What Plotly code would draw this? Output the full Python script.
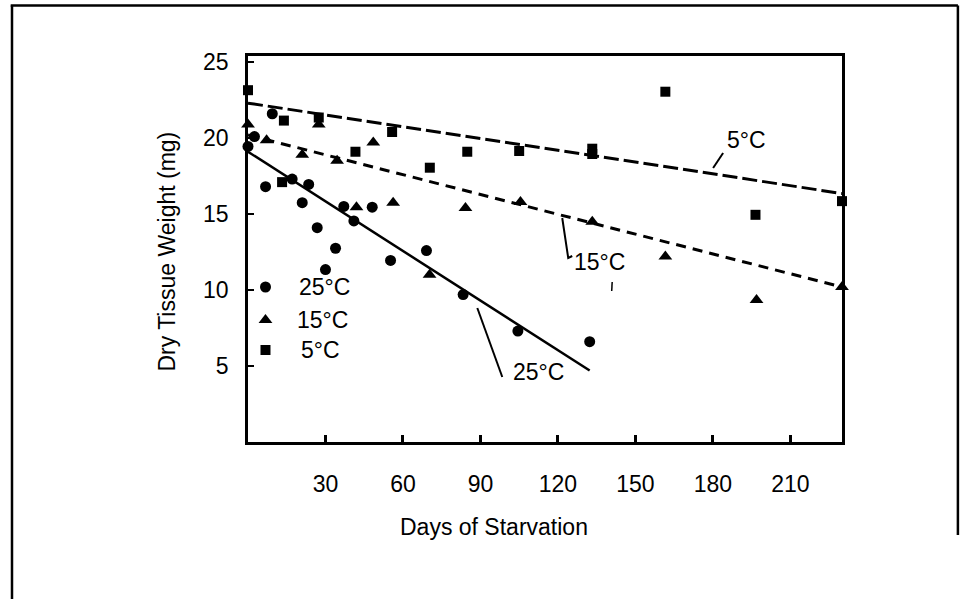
import plotly.graph_objects as go

# ---- data ----
days_25 = [0, 2.5, 9.4, 6.8, 17.1, 23.5, 21.0, 37.1, 48.1, 41.0, 26.8, 33.9, 30.0, 55.2, 69.1, 83.3, 104.5, 132.3]
wt_25   = [19.45, 20.1, 21.6, 16.8, 17.3, 16.95, 15.75, 15.5, 15.45, 14.55, 14.1, 12.75, 11.35, 11.95, 12.6, 9.7, 7.3, 6.6]

days_15 = [0, 7.2, 21.0, 34.5, 27.4, 48.5, 42.0, 56.2, 70.3, 84.2, 105.5, 133.3, 161.6, 196.9, 230]
wt_15   = [20.9, 19.85, 18.9, 18.5, 20.9, 19.7, 15.45, 15.75, 11.0, 15.4, 15.8, 14.5, 12.2, 9.35, 10.2]

days_5 = [0, 13.9, 13.2, 27.4, 41.6, 55.8, 70.4, 84.9, 105.0, 133.3, 133.3, 161.6, 196.5, 230]
wt_5   = [23.15, 21.15, 17.1, 21.35, 19.1, 20.4, 18.05, 19.1, 19.15, 19.3, 18.95, 23.05, 14.95, 15.85]

# regression lines (end points)
fit_x_5, fit_y_5 = [0, 230], [22.3, 16.35]
fit_x_15, fit_y_15 = [0, 230], [20.2, 10.2]
fit_x_25, fit_y_25 = [0, 132.3], [19.1, 4.7]

x_ticks = [30, 60, 90, 120, 150, 180, 210]
y_ticks = [5, 10, 15, 20, 25]
legend_labels = ["25°C", "15°C", "5°C"]

FONT = "Liberation Sans, Arial, Helvetica, sans-serif"
W, H = 968, 599
L, R, T, B = 247.5, 842.0, 56.0, 442.0   # plot area in pixels
X0, X1, Y0, Y1 = 0, 230, 0, 25.4

def px2x(p):
    return X0 + (p - L) / (R - L) * (X1 - X0)

def py2y(p):
    return Y0 + (B - p) / (B - T) * (Y1 - Y0)

def pxp(p):   # pixel -> paper x
    return (p - L) / (R - L)

def pyp(p):   # pixel -> paper y
    return (B - p) / (B - T)

fig = go.Figure()

# trend lines
fig.add_trace(go.Scatter(x=fit_x_5, y=fit_y_5, mode="lines",
                         line=dict(color="black", width=3, dash="15px,5px"), showlegend=False))
fig.add_trace(go.Scatter(x=fit_x_15, y=fit_y_15, mode="lines",
                         line=dict(color="black", width=3, dash="10px,7px"), showlegend=False))
fig.add_trace(go.Scatter(x=fit_x_25, y=fit_y_25, mode="lines",
                         line=dict(color="black", width=2.5), showlegend=False))

# data points
fig.add_trace(go.Scatter(x=days_25, y=wt_25, mode="markers", cliponaxis=False,
                         marker=dict(symbol="circle", size=11, color="black"), showlegend=False))
fig.add_trace(go.Scatter(x=days_15, y=wt_15, mode="markers", cliponaxis=False,
                         marker=dict(symbol="triangle-up", size=12, color="black"), showlegend=False))
fig.add_trace(go.Scatter(x=days_5, y=wt_5, mode="markers", cliponaxis=False,
                         marker=dict(symbol="square", size=10, color="black"), showlegend=False))

# in-plot legend
leg_px_marker = 265
leg_py = [287, 320, 350]
leg_symbols = ["circle", "triangle-up", "square"]
leg_sizes = [11, 12, 10]
for sym, sz, p in zip(leg_symbols, leg_sizes, leg_py):
    fig.add_trace(go.Scatter(x=[px2x(leg_px_marker)], y=[py2y(p)], mode="markers",
                             marker=dict(symbol=sym, size=sz, color="black"),
                             showlegend=False, hoverinfo="skip"))
for lab, p, xl in zip(legend_labels, leg_py, [297, 295, 299]):
    fig.add_annotation(x=px2x(xl), y=py2y(p), text=lab, showarrow=False, xanchor="left",
                       yanchor="middle", font=dict(family=FONT, size=23, color="black"))

# line labels with leader lines
labels = [("5°C", 746, 140, [(713, 168), (723, 153)]),
          ("15°C", 599, 262, [(562, 218), (568, 258), (572, 256)]),
          ("25°C", 538, 372, [(477, 308), (502, 377)])]
for txt, cx, cy, pts in labels:
    fig.add_annotation(x=px2x(cx), y=py2y(cy), text=txt, showarrow=False,
                       xanchor="center", yanchor="middle",
                       font=dict(family=FONT, size=23, color="black"))
    path = "M " + " L ".join(f"{px2x(a)},{py2y(b)}" for a, b in pts)
    fig.add_shape(type="path", path=path, xref="x", yref="y",
                  line=dict(color="black", width=2))

# small stray mark in the scan
fig.add_shape(type="line", xref="x", yref="y", x0=px2x(612), x1=px2x(611.5),
              y0=py2y(282), y1=py2y(291), line=dict(color="black", width=1.5))

# axis titles
fig.add_annotation(xref="paper", yref="paper", x=pxp(166), y=pyp(252), text="Dry Tissue Weight (mg)",
                   textangle=-90, showarrow=False, xanchor="center", yanchor="middle",
                   font=dict(family=FONT, size=23, color="black"))
fig.add_annotation(xref="paper", yref="paper", x=pxp(494), y=pyp(527), text="Days of Starvation",
                   showarrow=False, xanchor="center", yanchor="middle",
                   font=dict(family=FONT, size=23, color="black"))

# outer frame (open at bottom)
frame = dict(color="black", width=2.5)
fig.add_shape(type="line", xref="paper", yref="paper", x0=pxp(11.3), x1=pxp(11.3),
              y0=pyp(5.5), y1=pyp(600), line=frame)
fig.add_shape(type="line", xref="paper", yref="paper", x0=pxp(10), x1=pxp(958),
              y0=pyp(5.5), y1=pyp(5.5), line=frame)
fig.add_shape(type="line", xref="paper", yref="paper", x0=pxp(958), x1=pxp(958),
              y0=pyp(5.5), y1=pyp(535), line=frame)

fig.update_xaxes(range=[X0, X1], tickvals=x_ticks, ticktext=[str(v) for v in x_ticks],
                 showline=True, linecolor="black", linewidth=2.5, mirror=True,
                 ticks="inside", ticklen=7, tickwidth=2.5, tickcolor="black",
                 showgrid=False, zeroline=False, ticklabelstandoff=20,
                 tickfont=dict(family=FONT, size=23, color="black"))
fig.update_yaxes(range=[Y0, Y1], tickvals=y_ticks, ticktext=[str(v) for v in y_ticks],
                 showline=True, linecolor="black", linewidth=2.5, mirror=True,
                 ticks="inside", ticklen=6, tickwidth=2, tickcolor="black",
                 showgrid=False, zeroline=False, ticklabelstandoff=12,
                 tickfont=dict(family=FONT, size=23, color="black"))

fig.update_layout(width=W, height=H, margin=dict(l=L, r=W - R, t=T, b=H - B, pad=0),
                  paper_bgcolor="white", plot_bgcolor="white", showlegend=False)

fig.write_html("out.html", config={"displayModeBar": False},
               post_script="document.body.style.margin='0';document.body.style.overflow='hidden';")
